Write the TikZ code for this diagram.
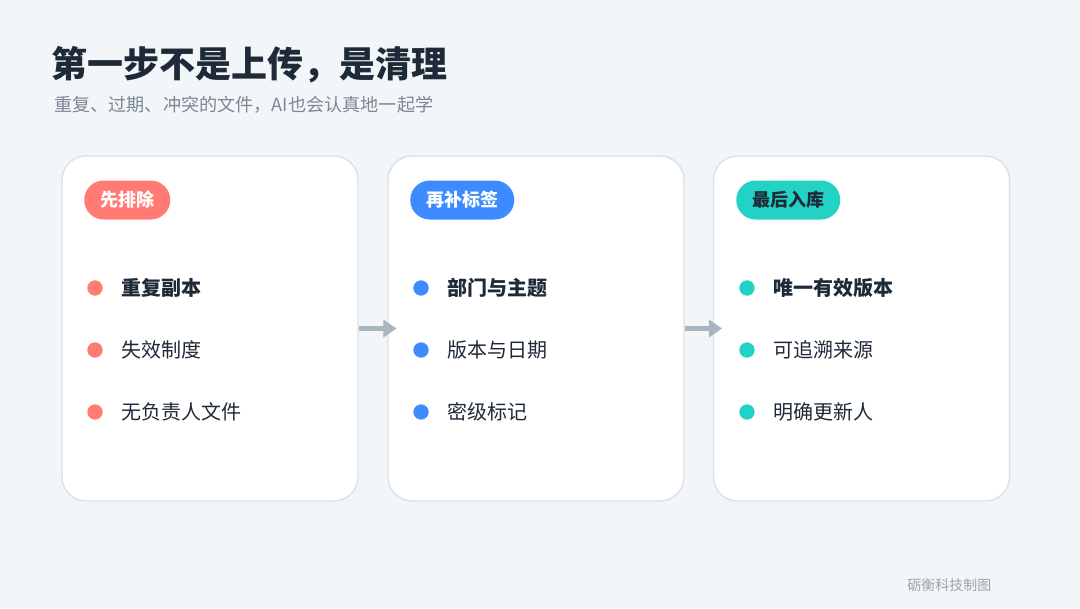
\documentclass[tikz,border=0pt]{standalone}
\usepackage{fontspec}
\setmainfont{Noto Sans CJK SC}
\newfontfamily\cjk{Noto Sans CJK SC}
\usetikzlibrary{arrows.meta,positioning}
\definecolor{bg}{HTML}{F3F6F8}
\definecolor{cardborder}{HTML}{DCE3E8}
\definecolor{ink}{HTML}{1E2A38}
\definecolor{sub}{HTML}{7B8794}
\definecolor{arrowc}{HTML}{A9B5BF}
\definecolor{cred}{HTML}{FF7B73}
\definecolor{cblue}{HTML}{3D8BFF}
\definecolor{cteal}{HTML}{22D3C5}
\definecolor{foot}{HTML}{9AA4AE}
\tikzset{
  card/.style={draw=cardborder, line width=1.1pt, fill=white, rounded corners=18pt,
    minimum width=222pt, minimum height=258.75pt, inner sep=0pt},
  pill/.style={fill=#1, rounded corners=14.6pt, minimum height=29.25pt, inner xsep=12pt,
    inner ysep=0pt, font=\cjk\fontsize{13.5pt}{16pt}\selectfont\bfseries, text=white, anchor=west},
  dot/.style={circle, fill=#1, minimum size=11.5pt, inner sep=0pt},
  item/.style={anchor=west, inner sep=0pt, text=ink, font=\cjk\fontsize{15pt}{18pt}\selectfont},
  itemb/.style={item, font=\cjk\fontsize{15pt}{18pt}\selectfont\bfseries},
  flow/.style={draw=arrowc, line width=3.6pt, -{Triangle[length=10pt,width=13pt]}},
}
\begin{document}
\begin{tikzpicture}[x=0.75pt,y=-0.75pt]
\fill[bg] (0,0) rectangle (1080,608);
\useasboundingbox (0,0) rectangle (1080,608);

\node[anchor=west, inner sep=0pt, text=ink, font=\cjk\fontsize{27pt}{32pt}\selectfont\bfseries] (title) at (51,65) {第一步不是上传，是清理};
\node[anchor=west, inner sep=0pt, text=sub, font=\cjk\fontsize{13.6pt}{16pt}\selectfont] (subtitle) at (54,105) {重复、过期、冲突的文件，AI也会认真地一起学};

\node[card] (c1) at (210,328.5) {};
\node[card] (c2) at (536,328.5) {};
\node[card] (c3) at (861.5,328.5) {};

% card 1
\node[pill=cred] (p1) at (84,200) {先排除};
\node[dot=cred] (d11) at (95,288) {};
\node[dot=cred] (d12) at (95,350) {};
\node[dot=cred] (d13) at (95,412) {};
\node[itemb] (t11) at (121,288) {重复副本};
\node[item] (t12) at (121,350) {失效制度};
\node[item] (t13) at (121,412) {无负责人文件};

% card 2
\node[pill=cblue] (p2) at (410,200) {再补标签};
\node[dot=cblue] (d21) at (421,288) {};
\node[dot=cblue] (d22) at (421,350) {};
\node[dot=cblue] (d23) at (421,412) {};
\node[itemb] (t21) at (447,288) {部门与主题};
\node[item] (t22) at (447,350) {版本与日期};
\node[item] (t23) at (447,412) {密级标记};

% card 3
\node[pill=cteal, text=ink] (p3) at (736,200) {最后入库};
\node[dot=cteal] (d31) at (747,288) {};
\node[dot=cteal] (d32) at (747,350) {};
\node[dot=cteal] (d33) at (747,412) {};
\node[itemb] (t31) at (773,288) {唯一有效版本};
\node[item] (t32) at (773,350) {可追溯来源};
\node[item] (t33) at (773,412) {明确更新人};

% arrows
\draw[flow] (c1.east) -- ([xshift=7pt]c2.west);
\draw[flow] (c2.east) -- ([xshift=7pt]c3.west);

\node[anchor=west, inner sep=0pt, text=foot, font=\cjk\fontsize{10.5pt}{13pt}\selectfont] (footer) at (907,585) {砺衡科技制图};
\end{tikzpicture}
\end{document}
